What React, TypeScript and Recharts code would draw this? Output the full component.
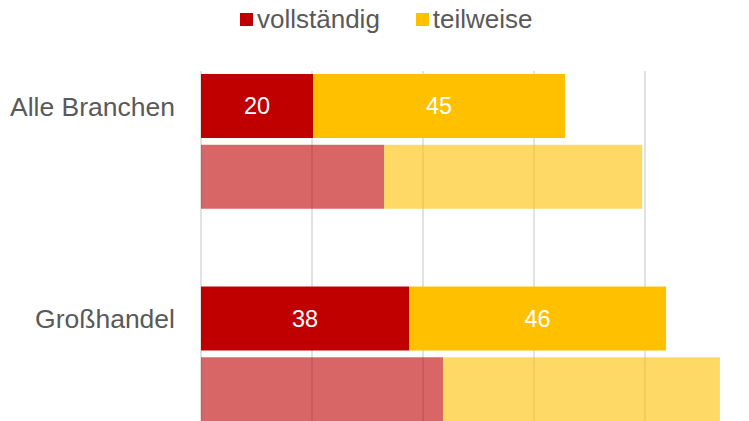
import React from "react";
import { BarChart, Bar, XAxis, YAxis, CartesianGrid, Legend, LabelList, Cell } from "recharts";

const rowLabels = ["Alle Branchen", "", "", "Großhandel", ""];
const vollstaendigValues: (number | null)[] = [20.2, 33.0, null, 37.5, 43.6];
const teilweiseValues: (number | null)[] = [45.4, 46.5, null, 46.3, 49.9];
const isCurrent = [true, false, false, true, false];
const seriesNames = ["vollständig", "teilweise"];
const xTicks = [0, 20, 40, 60, 80, 100];

const RED = "#C00000";
const YELLOW = "#FFC000";
const TEXT = "#595959";

const data = rowLabels.map((label, i) => ({
  id: `r${i}`,
  label,
  vollstaendig: vollstaendigValues[i],
  teilweise: teilweiseValues[i],
  vollLabel: isCurrent[i] && vollstaendigValues[i] != null ? Math.round(vollstaendigValues[i] as number) : null,
  teilLabel: isCurrent[i] && teilweiseValues[i] != null ? Math.round(teilweiseValues[i] as number) : null,
}));

const renderLegend = (props: any) => {
  const payload = [...(props.payload || [])]
    .filter((p: any) => p.type !== "none")
    .sort((a: any, b: any) => seriesNames.indexOf(a.value) - seriesNames.indexOf(b.value));
  return (
    <div
      style={{
        display: "flex",
        alignItems: "center",
        paddingLeft: 240,
        paddingTop: 4,
        boxSizing: "border-box",
        height: 34,
      }}
    >
      {payload.map((p: any, i: number) => (
        <div key={i} style={{ display: "flex", alignItems: "center", marginRight: 36 }}>
          <div style={{ width: 13, height: 13, background: p.color, marginRight: 4 }} />
          <span style={{ fontSize: 26, color: TEXT, lineHeight: "30px" }}>{p.value}</span>
        </div>
      ))}
    </div>
  );
};

export default function App() {
  return (
    <div
      style={{
        position: "fixed",
        left: 0,
        top: 0,
        width: 749,
        height: 421,
        overflow: "hidden",
        background: "#fff",
        fontFamily: "'Liberation Sans', Arial, sans-serif",
      }}
    >
      <BarChart
        width={756}
        height={431}
        data={data}
        layout="vertical"
        margin={{ top: 0, right: 0, bottom: 6, left: 0 }}
        barSize={64}
      >
        <CartesianGrid horizontal={false} vertical={true} stroke="#D9D9D9" strokeWidth={1.5} />
        <XAxis type="number" domain={[0, 100]} ticks={xTicks} hide />
        <YAxis
          type="category"
          dataKey="id"
          width={201}
          tickLine={false}
          axisLine={false}
          tickMargin={20}
          tickFormatter={(_v: any, i: number) => rowLabels[i]}
          tick={{ fill: TEXT, fontSize: 26.5 }}
          interval={0}
        />
        <Legend
          verticalAlign="top"
          align="left"
          content={renderLegend}
          wrapperStyle={{ top: 0, left: 0, width: 756, height: 71 }}
        />
        <Bar dataKey="vollstaendig" name={seriesNames[0]} stackId="s" fill={RED} isAnimationActive={false}>
          {data.map((_d, i) => (
            <Cell key={i} fill={RED} fillOpacity={isCurrent[i] ? 1 : 0.6} />
          ))}
          <LabelList dataKey="vollLabel" position="center" fill="#fff" fontSize={23.5} />
        </Bar>
        <Bar dataKey="teilweise" name={seriesNames[1]} stackId="s" fill={YELLOW} isAnimationActive={false}>
          {data.map((_d, i) => (
            <Cell key={i} fill={YELLOW} fillOpacity={isCurrent[i] ? 1 : 0.6} />
          ))}
          <LabelList dataKey="teilLabel" position="center" fill="#fff" fontSize={23.5} />
        </Bar>
      </BarChart>
    </div>
  );
}
